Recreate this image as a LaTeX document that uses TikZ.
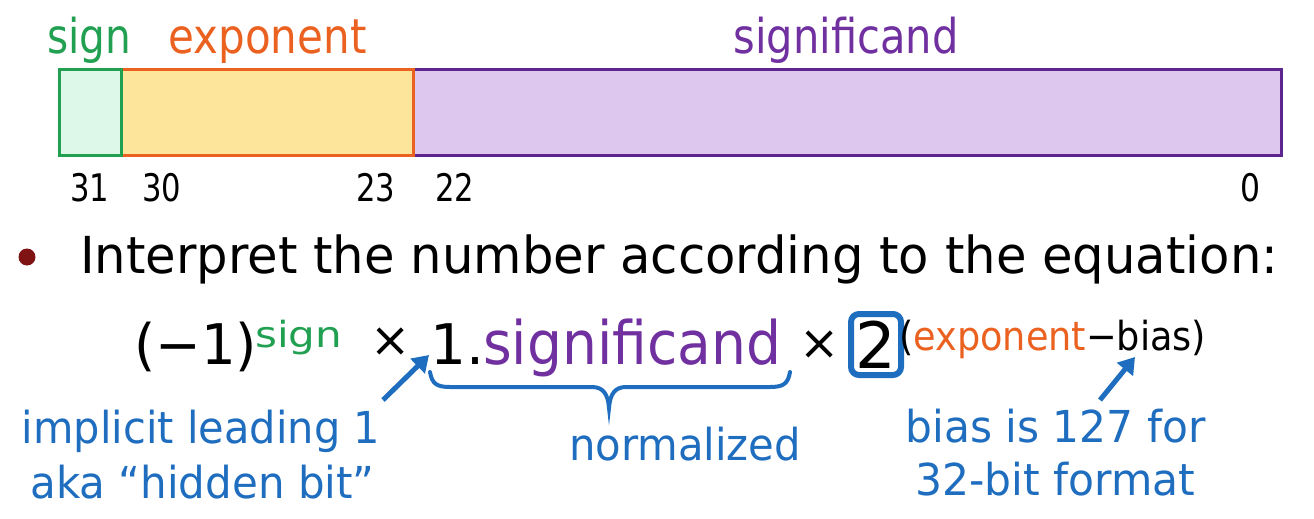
\documentclass[tikz,border=0pt]{standalone}
\usepackage{fontspec}
\setmainfont{DejaVu Sans}
\usetikzlibrary{arrows.meta}
\definecolor{sgreen}{HTML}{22A052}
\definecolor{sgreenfill}{HTML}{DDF8E9}
\definecolor{eorange}{HTML}{EB6120}
\definecolor{efill}{HTML}{FDE59B}
\definecolor{mpurple}{HTML}{5E2490}
\definecolor{mfill}{HTML}{DDC7EF}
\definecolor{tpurple}{HTML}{7030A0}
\definecolor{nblue}{HTML}{1F6DBF}
\definecolor{bred}{HTML}{7F1212}
\newcommand{\fs}[1]{\fontsize{#1}{#1}\selectfont}
\newcommand{\tx}[3]{\resizebox{#1pt}{\height}{\fs{#2}#3}}
\begin{document}
\begin{tikzpicture}[x=1pt,y=-1pt,
  field/.style={line width=3pt,minimum height=85pt,anchor=north west,inner sep=0pt,outer sep=0pt},
  lbl/.style={inner sep=0pt,anchor=base},
  bit/.style={inner sep=0pt,anchor=base},
  eq/.style={inner sep=0pt,anchor=base west},
  note/.style={inner sep=0pt,anchor=base,text=nblue},
  callout/.style={draw=nblue,line width=5pt,-{Triangle[length=16pt,width=20pt]}}]
\useasboundingbox (0,0) rectangle (1314,519);
% fields
\node[field,draw=mpurple,fill=mfill,minimum width=868pt] (sig) at (413,70) {};
\node[field,draw=eorange,fill=efill,minimum width=292pt] (exp) at (121,70) {};
\node[field,draw=sgreen,fill=sgreenfill,minimum width=62pt] (sgn) at (59,70) {};
% labels
\node[lbl,text=sgreen] (lsgn) at (89,54) {\tx{84}{48}{sign}};
\node[lbl,text=eorange] (lexp) at (267.5,54) {\tx{198}{48}{exponent}};
\node[lbl,text=tpurple] (lsig) at (846,54) {\tx{225}{48}{significand}};
% bits
\node[bit] (b31) at (90,201) {\tx{39}{38}{31}};
\node[bit] (b30) at (162,201) {\tx{39}{38}{30}};
\node[bit] (b23) at (376,201) {\tx{39}{38}{23}};
\node[bit] (b22) at (455,201) {\tx{39}{38}{22}};
\node[bit] (b0) at (1250,201) {\tx{20}{38}{0}};
% bullet
\fill[bred] (27,257) circle (8.5pt);
\node[eq] (interp) at (80,273) {\tx{1198}{51}{Interpret the number according to the equation:}};
% equation
\node[eq] (m1) at (134,364) {\tx{123}{56}{(−1)}};
\node[eq,text=sgreen] (ssign) at (255,347) {\tx{87}{36}{sign}};
\node[inner sep=0pt] (x1) at (391,342) {\fs{48}×};
\node[eq] (one) at (430,364) {\tx{54}{56}{1.}};
\node[eq,text=tpurple] (sigt) at (483,364) {\tx{298}{60}{significand}};
\node[inner sep=0pt] (x2) at (820,345) {\fs{48}×};
\node[inner sep=0pt,anchor=base] (two) at (876,368) {\fs{64}2};
\draw[nblue,line width=6pt,rounded corners=8pt] (851,314) rectangle (901,375);
\node[eq] (expo) at (899,350) {\tx{307}{40}{(\textcolor{eorange}{exponent}−bias)}};
% brace
\draw[nblue,line width=4pt,line cap=round]
  (430,372) .. controls (432,384) and (437,387) .. (450,387)
  -- (592,387) .. controls (603,387) and (608,394) .. (609,408)
  .. controls (610,394) and (615,387) .. (626,387)
  -- (770,387) .. controls (783,387) and (788,384) .. (790,372);
% notes
\node[note] (n1) at (201,443) {\tx{358}{44}{implicit leading 1}};
\node[note] (n2) at (202.5,498) {\tx{344}{44}{aka “hidden bit”}};
\node[note] (n3) at (685,460) {\tx{232}{44}{normalized}};
\node[note] (n4) at (1055.5,442) {\tx{300}{44}{bias is 127 for}};
\node[note] (n5) at (1055.5,495) {\tx{280}{44}{32-bit format}};
\coordinate (a1s) at (383,400);
\coordinate (a1e) at (429,355);
\coordinate (a2s) at (1100,400);
\coordinate (a2e) at (1135,357);
\draw[callout] (a1s) -- (a1e);
\draw[callout] (a2s) -- (a2e);
\end{tikzpicture}
\end{document}
